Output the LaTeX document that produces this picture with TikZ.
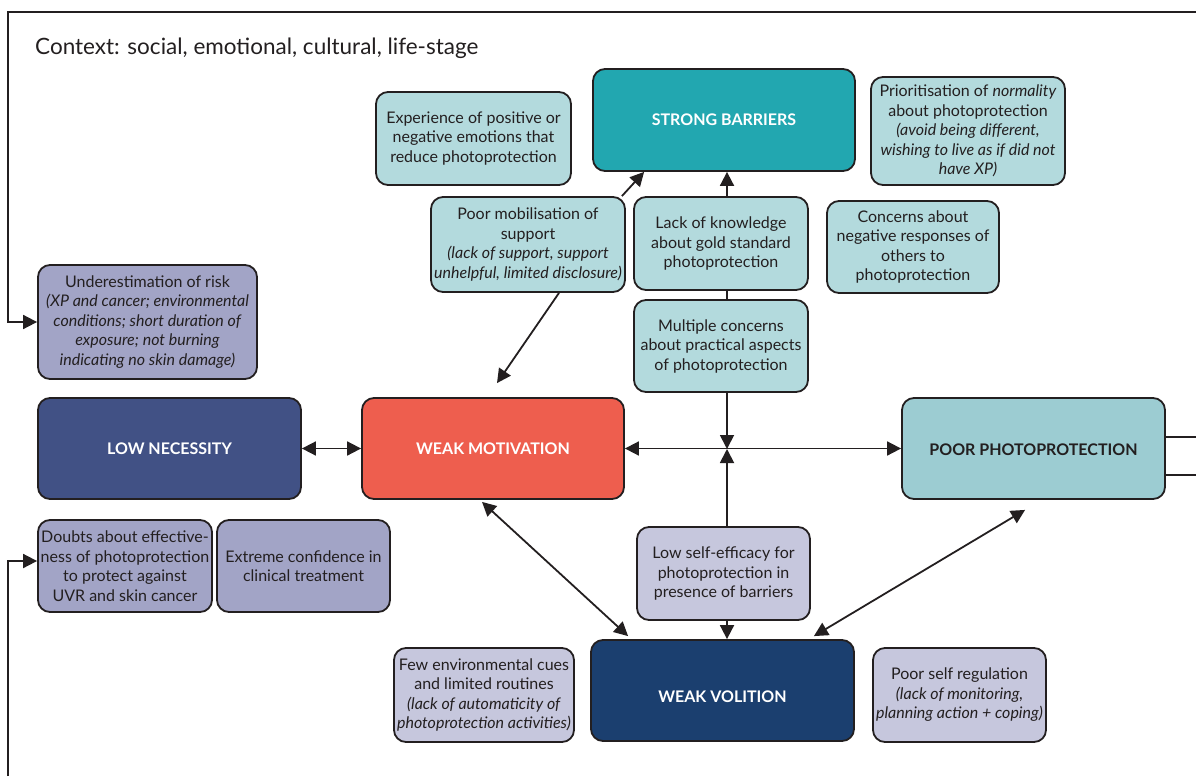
\documentclass[tikz,border=0pt]{standalone}
\usepackage{fontspec}
\setmainfont{Lato}
\usetikzlibrary{arrows.meta}

\definecolor{edge}{HTML}{231F20}
\definecolor{tealdark}{HTML}{22A7B0}
\definecolor{teallight}{HTML}{B3DADD}
\definecolor{tealmid}{HTML}{9CCCD2}
\definecolor{navymid}{HTML}{415185}
\definecolor{coral}{HTML}{EE5E4E}
\definecolor{navydark}{HTML}{1B3F6F}
\definecolor{lavender}{HTML}{A2A4C6}
\definecolor{lavlight}{HTML}{C6C7DD}

\tikzset{
  box/.style={draw=edge, line width=1.8pt, rounded corners=12pt, align=center,
    inner sep=2pt, text=edge, font=\fontsize{16}{19.5}\selectfont},
  keybox/.style={box, font=\fontsize{16}{19}\selectfont\bfseries},
  conn/.style={draw=edge, line width=1.8pt},
  tip/.style={-{Triangle[length=14pt,width=14pt]}},
  arr/.style={conn, tip},
  dbl/.style={conn, {Triangle[length=14pt,width=14pt]}-{Triangle[length=14pt,width=14pt]}},
}

\begin{document}
\begin{tikzpicture}[x=1pt,y=-1pt]
\useasboundingbox (0,0) rectangle (1196,776);

% context heading
\node[anchor=base west, inner sep=0pt, text=edge, font=\fontsize{22.5}{26}\selectfont]
  (ctx) at (35,55) {Context: social, emotional, cultural, life-stage};

% barrier boxes around the top
\node[box, fill=teallight, minimum width=195pt, minimum height=93pt] (emo) at (473.5,138.5)
  {Experience of positive or\\negative emotions that\\reduce photoprotection};
\node[keybox, fill=tealdark, text=white, minimum width=262pt, minimum height=102pt] (sb) at (724,120)
  {STRONG BARRIERS};
\node[box, fill=teallight, minimum width=194pt, minimum height=108pt] (norm) at (968,131)
  {Prioritisation of \textit{normality}\\about photoprotection\\\textit{(avoid being different,}\\\textit{wishing to live as if did not}\\\textit{have XP)}};
\node[box, fill=teallight, minimum width=194pt, minimum height=95pt] (mob) at (528,244.5)
  {Poor mobilisation of\\support\\\textit{(lack of support, support}\\\textit{unhelpful, limited disclosure)}};
\node[box, fill=teallight, minimum width=174pt, minimum height=93pt] (know) at (721,243.5)
  {Lack of knowledge\\about gold standard\\photoprotection};
\node[box, fill=teallight, minimum width=172pt, minimum height=92pt] (others) at (913,247)
  {Concerns about\\negative responses of\\others to\\photoprotection};
\node[box, fill=teallight, minimum width=174pt, minimum height=92pt] (pract) at (721,346)
  {Multiple concerns\\about practical aspects\\of photoprotection};

% necessity beliefs
\node[box, fill=lavender, minimum width=219pt, minimum height=114pt] (risk) at (147.5,322)
  {Underestimation of risk\\\textit{(XP and cancer; environmental}\\\textit{conditions; short duration of}\\\textit{exposure; not burning}\\\textit{indicating no skin damage)}};
\node[box, fill=lavender, minimum width=174pt, minimum height=92pt] (doubt) at (125,566)
  {Doubts about effective-\\ness of photoprotection\\to protect against\\UVR and skin cancer};
\node[box, fill=lavender, minimum width=173pt, minimum height=92pt] (conf) at (303.5,566)
  {Extreme confidence in\\clinical treatment};

% main row
\node[keybox, fill=navymid, text=white, minimum width=263pt, minimum height=101pt] (nec) at (169.5,448.5)
  {LOW NECESSITY};
\node[keybox, fill=coral, text=white, minimum width=262pt, minimum height=101pt] (mot) at (493,448.5)
  {WEAK MOTIVATION};
\node[keybox, fill=tealmid, minimum width=263pt, minimum height=101pt,
      text height=14pt, text depth=0pt] (poor) at (1033.5,448.5)
  {POOR PHOTOPROTECTION};

% volition
\node[box, fill=lavlight, minimum width=173pt, minimum height=93pt] (eff) at (723.5,573.5)
  {Low self-efficacy for\\photoprotection in\\presence of barriers};
\node[box, fill=lavlight, minimum width=180pt, minimum height=94pt] (cues) at (484,695)
  {Few environmental cues\\and limited routines\\\textit{(lack of automaticity of}\\\textit{photoprotection activities)}};
\node[keybox, fill=navydark, text=white, minimum width=263pt, minimum height=101pt,
      text height=23pt, text depth=0pt] (vol) at (722.5,690.5)
  {WEAK VOLITION};
\node[box, fill=lavlight, minimum width=173pt, minimum height=94pt] (reg) at (959.5,695)
  {Poor self regulation\\\textit{(lack of monitoring,}\\\textit{planning action + coping)}};

% free ends of the outer lines
\coordinate (j) at (727,449);
\coordinate (frameR) at (1196,12);
\coordinate (frameL) at (8,12);
\coordinate (baseL) at (8,776);
\coordinate (outA) at (1196,437);
\coordinate (outB) at (1196,475);

% frame line feeding the necessity boxes
\draw[arr] (frameR) -- (frameL) |- (risk.west);
\draw[arr] (baseL) |- ([yshift=5pt]doubt.west);

% connectors
\draw[dbl] (nec.east) -- (mot.west);
\draw[dbl] (mot.east) -- (poor.west);
\draw[arr] (pract.south -| j) -- (j);
\draw[arr] (eff.north -| j) -- (j);
\draw[arr] (eff.south -| j) -- (vol.north -| j);
\draw[arr] (know.north -| j) -- (sb.south -| j);
\draw[conn] (know.south -| j) -- (pract.north -| j);
\draw[arr] ([xshift=-4pt]mob.north east) -- ([xshift=52pt]sb.south west);
\draw[arr] ([xshift=31pt]mob.south) -- ([xshift=4pt,yshift=14pt]mot.north);
\draw[dbl] ([xshift=-11pt,yshift=-2pt]mot.south) -- ([xshift=38pt,yshift=3pt]vol.north west);
\draw[dbl] ([xshift=-41pt,yshift=3pt]vol.north east) -- ([xshift=124pt,yshift=-10pt]poor.south west);
\draw[conn] ([yshift=11.5pt]poor.east) -- (outA);
\draw[conn] ([yshift=-26.5pt]poor.east) -- (outB);
\end{tikzpicture}
\end{document}
